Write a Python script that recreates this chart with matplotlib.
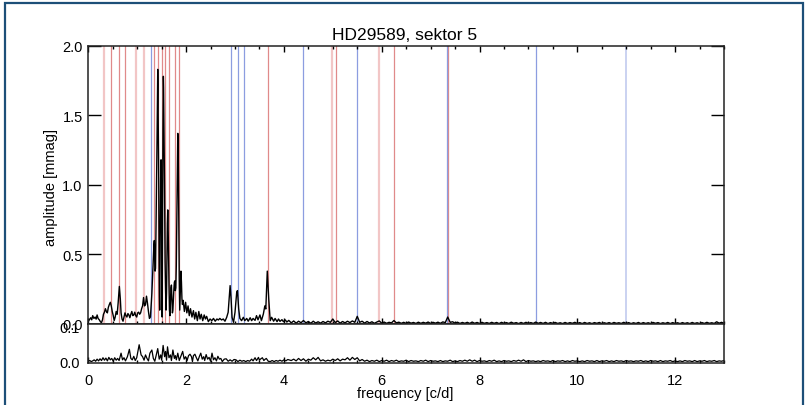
import numpy as np
import matplotlib
matplotlib.use("Agg")
import matplotlib.pyplot as plt
from matplotlib.patches import Rectangle
from matplotlib.ticker import MultipleLocator, FormatStrFormatter

plt.rcParams['font.family'] = ['Liberation Sans', 'DejaVu Sans']
plt.rcParams['font.size'] = 10.5

title = "HD29589, sektor 5"

# amplitude spectrum below 4.1 c/d: (frequency, amplitude in mmag)
spec_lo = [
    (0.00, 0.020), (0.02, 0.030), (0.05, 0.045), (0.07, 0.030), (0.09, 0.060),
    (0.115, 0.040), (0.14, 0.050), (0.16, 0.035), (0.18, 0.065), (0.20, 0.040),
    (0.225, 0.030), (0.25, 0.015), (0.27, 0.010), (0.29, 0.030), (0.31, 0.070),
    (0.33, 0.085), (0.35, 0.110), (0.37, 0.090), (0.39, 0.080), (0.41, 0.120),
    (0.43, 0.140), (0.45, 0.156), (0.47, 0.130), (0.49, 0.090), (0.51, 0.060),
    (0.53, 0.025), (0.55, 0.050), (0.57, 0.090), (0.59, 0.070), (0.61, 0.150),
    (0.635, 0.270), (0.655, 0.180), (0.67, 0.080), (0.69, 0.035), (0.71, 0.020),
    (0.73, 0.050), (0.75, 0.080), (0.77, 0.060), (0.79, 0.050), (0.81, 0.075),
    (0.83, 0.065), (0.85, 0.045), (0.87, 0.070), (0.89, 0.090), (0.91, 0.060),
    (0.93, 0.065), (0.95, 0.085), (0.97, 0.060), (0.99, 0.050), (1.01, 0.080),
    (1.03, 0.085), (1.05, 0.070), (1.07, 0.080), (1.09, 0.110), (1.11, 0.130),
    (1.13, 0.190), (1.15, 0.130), (1.17, 0.140), (1.19, 0.200), (1.21, 0.150),
    (1.23, 0.090), (1.25, 0.040), (1.27, 0.050),
    # main group of peaks
    (1.28, 0.10), (1.29, 0.16), (1.30, 0.22), (1.31, 0.30), (1.32, 0.38),
    (1.33, 0.47), (1.34, 0.56), (1.35, 0.60), (1.355, 0.52), (1.365, 0.38),
    (1.375, 0.40), (1.385, 0.70), (1.395, 0.98), (1.405, 1.30), (1.415, 1.70),
    (1.42, 1.83), (1.425, 1.72), (1.43, 1.45), (1.44, 1.05), (1.445, 0.70),
    (1.45, 0.40), (1.455, 0.20), (1.46, 0.10), (1.465, 0.35), (1.47, 0.70),
    (1.48, 1.05), (1.488, 1.18), (1.495, 1.00), (1.50, 0.65), (1.505, 0.30),
    (1.51, 0.05), (1.515, 0.40), (1.52, 0.85), (1.527, 1.40), (1.535, 1.78),
    (1.54, 1.70), (1.547, 1.45), (1.555, 1.20), (1.56, 0.95), (1.565, 0.70),
    (1.57, 0.45), (1.58, 0.25), (1.59, 0.10), (1.60, 0.22), (1.61, 0.50),
    (1.617, 0.72), (1.625, 0.82), (1.632, 0.72), (1.64, 0.50), (1.65, 0.28),
    (1.66, 0.10), (1.67, 0.06), (1.68, 0.16), (1.69, 0.26), (1.70, 0.28),
    (1.71, 0.17), (1.72, 0.08), (1.73, 0.10), (1.74, 0.18), (1.75, 0.25),
    (1.76, 0.30), (1.77, 0.31), (1.78, 0.24), (1.79, 0.26), (1.80, 0.42),
    (1.81, 0.75), (1.82, 1.15), (1.83, 1.37), (1.84, 1.20), (1.85, 0.75),
    (1.86, 0.32), (1.87, 0.10), (1.88, 0.22), (1.89, 0.36), (1.895, 0.38),
    (1.905, 0.30), (1.915, 0.18), (1.925, 0.14), (1.94, 0.17),
    (1.965, 0.090), (1.99, 0.156), (2.015, 0.080), (2.04, 0.130), (2.065, 0.060),
    (2.09, 0.110), (2.12, 0.050), (2.15, 0.096), (2.175, 0.036), (2.20, 0.084),
    (2.23, 0.024), (2.26, 0.090), (2.285, 0.036), (2.31, 0.070), (2.34, 0.024),
    (2.37, 0.065), (2.395, 0.036), (2.42, 0.055), (2.455, 0.017), (2.49, 0.036),
    (2.525, 0.024), (2.56, 0.040), (2.595, 0.020), (2.63, 0.036), (2.66, 0.029),
    (2.69, 0.040), (2.725, 0.029), (2.76, 0.036), (2.795, 0.020), (2.83, 0.048),
    (2.86, 0.084), (2.90, 0.276), (2.92, 0.180), (2.94, 0.048), (2.97, 0.012),
    (3.00, 0.084), (3.035, 0.228), (3.05, 0.240), (3.075, 0.110), (3.10, 0.040),
    (3.135, 0.024), (3.17, 0.048), (3.20, 0.024), (3.24, 0.040), (3.27, 0.020),
    (3.31, 0.045), (3.34, 0.024), (3.37, 0.040), (3.41, 0.026), (3.44, 0.060),
    (3.47, 0.030), (3.51, 0.065), (3.54, 0.024), (3.58, 0.072), (3.61, 0.130),
    (3.63, 0.108), (3.66, 0.380), (3.69, 0.180), (3.72, 0.024), (3.75, 0.048),
    (3.79, 0.020), (3.82, 0.040), (3.86, 0.017), (3.89, 0.036), (3.92, 0.019),
    (3.96, 0.031), (3.99, 0.017), (4.03, 0.029), (4.06, 0.014), (4.10, 0.026),
]

# above 4.1 c/d the spectrum is sampled every 0.05 c/d, starting at 4.15
hi_start, hi_step = 4.15, 0.05
amp_hi = [
    0.008, 0.022, 0.006, 0.020, 0.009, 0.025, 0.008, 0.018, 0.005, 0.020,
    0.007, 0.016, 0.006, 0.018, 0.008, 0.020, 0.012, 0.036, 0.010, 0.022,
    0.006, 0.018, 0.008, 0.020, 0.010, 0.022, 0.012, 0.055, 0.012, 0.020,
    0.006, 0.018, 0.007, 0.016, 0.005, 0.014, 0.022, 0.006, 0.014, 0.005,
    0.012, 0.008, 0.025, 0.008, 0.013, 0.005, 0.012, 0.004, 0.014, 0.006,
    0.011, 0.004, 0.013, 0.005, 0.012, 0.006, 0.014, 0.004, 0.012, 0.006,
    0.013, 0.005, 0.015, 0.010, 0.050, 0.012, 0.016, 0.006, 0.013, 0.004,
    0.011, 0.005, 0.012, 0.004, 0.014, 0.005, 0.011, 0.004, 0.012, 0.005,
    0.010, 0.004, 0.012, 0.005, 0.011, 0.003, 0.012, 0.005, 0.010, 0.004,
    0.013, 0.005, 0.010, 0.003, 0.011, 0.004, 0.012, 0.005, 0.010, 0.004,
    0.014, 0.005, 0.011, 0.004, 0.012, 0.003, 0.010, 0.005, 0.011, 0.004,
    0.009, 0.003, 0.011, 0.004, 0.010, 0.005, 0.012, 0.004, 0.010, 0.003,
    0.011, 0.004, 0.009, 0.003, 0.010, 0.005, 0.011, 0.003, 0.009, 0.004,
    0.010, 0.003, 0.011, 0.005, 0.009, 0.004, 0.012, 0.004, 0.010, 0.003,
    0.009, 0.004, 0.011, 0.003, 0.010, 0.004, 0.009, 0.003, 0.011, 0.005,
    0.010, 0.003, 0.009, 0.004, 0.011, 0.003, 0.010, 0.004, 0.009, 0.003,
    0.010, 0.004, 0.009, 0.003, 0.011, 0.004, 0.009, 0.003, 0.010, 0.004,
    0.012, 0.005, 0.009, 0.004, 0.016, 0.006, 0.012, 0.005,
]

# residual spectrum after prewhitening
resid_lo = [
    (0.00, 0.002), (0.03, 0.004), (0.06, 0.001), (0.09, 0.003), (0.12, 0.006),
    (0.15, 0.002), (0.18, 0.008), (0.21, 0.003), (0.24, 0.009), (0.27, 0.004),
    (0.30, 0.012), (0.33, 0.005), (0.36, 0.011), (0.39, 0.003), (0.42, 0.013),
    (0.45, 0.006), (0.48, 0.010), (0.51, 0.002), (0.54, 0.012), (0.57, 0.005),
    (0.60, 0.010), (0.63, 0.004), (0.67, 0.025), (0.70, 0.006), (0.73, 0.012),
    (0.76, 0.003), (0.80, 0.015), (0.84, 0.036), (0.87, 0.010), (0.90, 0.006),
    (0.93, 0.016), (0.96, 0.004), (0.99, 0.012), (1.04, 0.049), (1.08, 0.020),
    (1.11, 0.015), (1.14, 0.005), (1.17, 0.020), (1.20, 0.010), (1.23, 0.003),
    (1.26, 0.025), (1.30, 0.034), (1.33, 0.010), (1.36, 0.002), (1.39, 0.020),
    (1.42, 0.038), (1.45, 0.008), (1.48, 0.020), (1.50, 0.005), (1.53, 0.047),
    (1.56, 0.015), (1.58, 0.030), (1.60, 0.005), (1.62, 0.043), (1.65, 0.012),
    (1.68, 0.020), (1.70, 0.004), (1.73, 0.034), (1.76, 0.010), (1.78, 0.018),
    (1.80, 0.006), (1.83, 0.025), (1.86, 0.004), (1.89, 0.015), (1.93, 0.030),
    (1.96, 0.008), (1.99, 0.015), (2.02, 0.004), (2.05, 0.018), (2.08, 0.022),
    (2.11, 0.015), (2.13, 0.001), (2.15, 0.018), (2.18, 0.022), (2.21, 0.012),
    (2.24, 0.003), (2.27, 0.015), (2.30, 0.025), (2.33, 0.008), (2.36, 0.015),
    (2.38, 0.004), (2.41, 0.021), (2.44, 0.008), (2.47, 0.013), (2.50, 0.002),
    (2.53, 0.025), (2.56, 0.006), (2.59, 0.012), (2.62, 0.003), (2.65, 0.016),
    (2.68, 0.008), (2.71, 0.010), (2.74, 0.001), (2.78, 0.008), (2.82, 0.009),
    (2.86, 0.002), (2.90, 0.006), (2.94, 0.002), (2.98, 0.007), (3.02, 0.006),
    (3.06, 0.001), (3.10, 0.005), (3.14, 0.002), (3.18, 0.004), (3.22, 0.001),
    (3.26, 0.004), (3.30, 0.002), (3.34, 0.008), (3.37, 0.003), (3.41, 0.012),
    (3.44, 0.004), (3.48, 0.013), (3.50, 0.005), (3.52, 0.008), (3.56, 0.012),
    (3.59, 0.004), (3.61, 0.007), (3.64, 0.010), (3.68, 0.002), (3.72, 0.001),
    (3.76, 0.004), (3.80, 0.001), (3.84, 0.004), (3.88, 0.002), (3.92, 0.005),
    (3.96, 0.002), (4.00, 0.006), (4.04, 0.003), (4.08, 0.007),
]
resid_hi = [
    0.004, 0.008, 0.003, 0.010, 0.004, 0.009, 0.002, 0.008, 0.005, 0.012,
    0.006, 0.013, 0.003, 0.006, 0.002, 0.005, 0.003, 0.008, 0.004, 0.009,
    0.003, 0.008, 0.006, 0.012, 0.005, 0.013, 0.007, 0.012, 0.003, 0.007,
    0.002, 0.005, 0.001, 0.004, 0.002, 0.005, 0.001, 0.004, 0.002, 0.005,
    0.001, 0.004, 0.002, 0.005, 0.001, 0.003, 0.002, 0.005, 0.001, 0.004,
    0.002, 0.003, 0.001, 0.004, 0.002, 0.005, 0.001, 0.004, 0.002, 0.003,
    0.001, 0.004, 0.001, 0.003, 0.002, 0.005, 0.001, 0.003, 0.001, 0.004,
    0.002, 0.005, 0.002, 0.006, 0.002, 0.005, 0.001, 0.004, 0.002, 0.003,
    0.001, 0.004, 0.002, 0.005, 0.001, 0.003, 0.001, 0.004, 0.002, 0.003,
    0.001, 0.004, 0.002, 0.005, 0.002, 0.006, 0.001, 0.004, 0.002, 0.003,
    0.001, 0.003, 0.001, 0.004, 0.002, 0.003, 0.001, 0.004, 0.001, 0.003,
    0.002, 0.004, 0.001, 0.003, 0.001, 0.004, 0.002, 0.003, 0.001, 0.003,
    0.001, 0.004, 0.002, 0.003, 0.001, 0.004, 0.001, 0.003, 0.002, 0.004,
    0.001, 0.003, 0.001, 0.004, 0.002, 0.003, 0.001, 0.004, 0.002, 0.003,
    0.001, 0.003, 0.002, 0.004, 0.001, 0.003, 0.001, 0.004, 0.002, 0.003,
    0.001, 0.004, 0.001, 0.003, 0.002, 0.004, 0.001, 0.003, 0.001, 0.003,
    0.001, 0.004, 0.002, 0.003, 0.001, 0.004, 0.001, 0.003, 0.002, 0.004,
    0.001, 0.003, 0.002, 0.004, 0.001, 0.003, 0.002, 0.004,
]

# identified frequencies [c/d]
f_red = [0.458, 0.634, 0.744, 1.337, 1.431, 1.513, 1.568, 1.656, 1.767,
         1.849, 3.675, 5.072, 6.245, 7.356]
f_pale = [0.315, 0.975, 1.145, 4.977, 5.945]
f_blue = [1.288, 2.912, 3.055, 3.190, 4.397, 5.500, 7.330, 9.155]
f_blue_pale = [11.0]

freq_lo, amp_lo = np.array(spec_lo).T
freq_hi = hi_start + hi_step * np.arange(len(amp_hi))
freq = np.concatenate([freq_lo, freq_hi])
amp = np.concatenate([amp_lo, amp_hi])

rfreq_lo, ramp_lo = np.array(resid_lo).T
rfreq_hi = hi_start + hi_step * np.arange(len(resid_hi))
rfreq = np.concatenate([rfreq_lo, rfreq_hi])
ramp = np.concatenate([ramp_lo, resid_hi])

W, H = 806, 406
fig = plt.figure(figsize=(W / 100, H / 100), dpi=100)

x0, x1 = 88.3, 724
ax = fig.add_axes([x0 / W, 1 - 325 / H, (x1 - x0) / W, (325 - 46.7) / H])
ax2 = fig.add_axes([x0 / W, 1 - 364 / H, (x1 - x0) / W, (364 - 325) / H])

for f in f_pale:
    ax.axvline(f, color='#f2c6c6', lw=1.6, zorder=1)
for f in f_red:
    ax.axvline(f, color='#e08a8a', lw=0.9, zorder=1)
for f in f_blue:
    ax.axvline(f, color='#8c9de0', lw=0.9, zorder=1)
for f in f_blue_pale:
    ax.axvline(f, color='#bcc6ee', lw=1.1, zorder=1)

ax.plot(freq, amp, color='k', lw=1.0, zorder=2)
ax2.plot(rfreq, ramp, color='k', lw=0.9)

for a in (ax, ax2):
    a.set_xlim(0, 13)
    a.xaxis.set_major_locator(MultipleLocator(2))
    a.xaxis.set_minor_locator(MultipleLocator(0.5))
    a.yaxis.set_major_formatter(FormatStrFormatter('%.1f'))
    for s in a.spines.values():
        s.set_linewidth(1.1)
        s.set_color('#222222')

ax.set_ylim(0, 2.0)
ax.yaxis.set_major_locator(MultipleLocator(0.5))
ax.tick_params(axis='x', which='major', direction='in', top=True, bottom=True,
               length=4.5, width=1.0, labelbottom=False)
ax.tick_params(axis='x', which='minor', direction='in', top=True, bottom=True,
               length=2.4, width=1.0)
ax.tick_params(axis='y', which='major', direction='in', left=True, right=True,
               length=9.5, width=1.0, pad=4)

ax2.set_ylim(-0.003, 0.108)
ax2.set_yticks([0.0, 0.1])
ax2.tick_params(axis='y', length=0, pad=6)
ax2.tick_params(axis='x', which='major', direction='in', length=4.5, width=1.0, pad=7)
ax2.tick_params(axis='x', which='minor', direction='in', length=2.4, width=1.0)

fig.text(405 / W, 1 - 35 / H, title, ha='center', va='center', fontsize=12.5)
fig.text(51 / W, 1 - 187 / H, 'amplitude [mmag]', rotation=90,
         ha='center', va='center', fontsize=10.5)
fig.text(405 / W, 1 - 394 / H, 'frequency [c/d]', ha='center', va='center',
         fontsize=10.5)

# slide frame around the figure
fig.patches.append(Rectangle((4.5 / W, -0.05), (803.3 - 4.5) / W, 1.05 - 4 / H,
                             transform=fig.transFigure, fill=False,
                             edgecolor='#1d4f78', lw=1.6))

fig.savefig('out.png', dpi=100)
